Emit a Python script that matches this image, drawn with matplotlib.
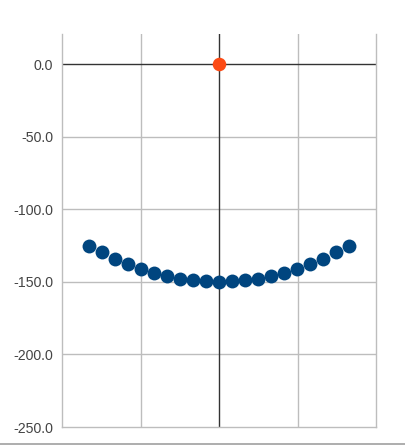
import matplotlib
matplotlib.use("Agg")
import matplotlib.pyplot as plt
from matplotlib.lines import Line2D

plt.rcParams['font.family'] = ['Liberation Sans', 'DejaVu Sans']

# curve points
x_vals = [-1.65, -1.485, -1.32, -1.155, -0.99, -0.825, -0.66, -0.495, -0.33, -0.165, 0.0,
          0.165, 0.33, 0.495, 0.66, 0.825, 0.99, 1.155, 1.32, 1.485, 1.65]
y_vals = [-125.0, -129.75, -134.0, -137.75, -141.0, -143.75, -146.0, -147.75, -149.0, -149.75, -150.0,
          -149.75, -149.0, -147.75, -146.0, -143.75, -141.0, -137.75, -134.0, -129.75, -125.0]
# highlighted point
hx = [0.0]
hy = [0.0]

y_ticks = [0, -50, -100, -150, -200, -250]
x_grid = [-1, 1]

fig = plt.figure(figsize=(4.05, 4.48), dpi=100)
ax = fig.add_axes([62/405, 21/448, 314/405, 393/448])

ax.set_xlim(-2, 2)
ax.set_ylim(-250, 20.7)

for gx in x_grid:
    ax.axvline(gx, color="#bdbdbd", lw=1, zorder=1)
for gy in y_ticks[1:-1]:
    ax.axhline(gy, color="#bdbdbd", lw=1, zorder=1)
ax.axhline(0, color="#333333", lw=1, zorder=2)
ax.axvline(0, color="#333333", lw=1, zorder=2)

ax.scatter(x_vals, y_vals, s=100, color="#00457f", zorder=3, linewidths=0)
ax.scatter(hx, hy, s=95, color="#fc4a14", zorder=4, linewidths=0)

ax.spines["top"].set_visible(False)
for side in ["left", "right", "bottom"]:
    ax.spines[side].set_color("#bdbdbd")
    ax.spines[side].set_linewidth(1)

ax.set_yticks(y_ticks)
ax.set_yticklabels([f"{v:.1f}" for v in y_ticks])
ax.set_xticks([])
ax.tick_params(axis="y", length=0, pad=6.5, labelsize=10.2, labelcolor="#444444")

# bottom divider line of the page
fig.add_artist(Line2D([0, 1], [4/448, 4/448], color="#a0a0a0", lw=1.2))

fig.savefig("out.png", dpi=100)
